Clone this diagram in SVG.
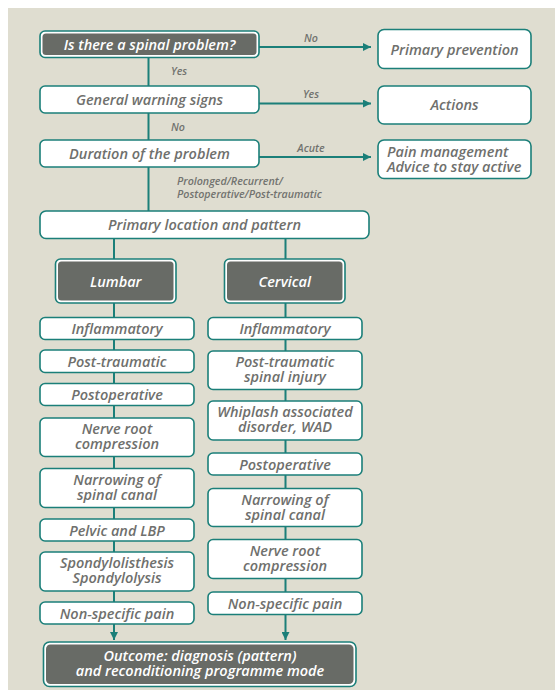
<svg xmlns="http://www.w3.org/2000/svg" width="555" height="699" viewBox="0 0 555 699">
<defs>
<style>
.box{fill:#ffffff;stroke:#1b7f79;stroke-width:1.6}
.dko{fill:#ffffff;stroke:#1b7f79;stroke-width:1.6}
.dki{fill:#686b66}
.t{font-family:"Open Sans","Noto Sans",sans-serif;font-style:italic;font-weight:600;font-size:14.5px;fill:#6f706d;text-anchor:middle}
.ts{font-family:"Open Sans","Noto Sans",sans-serif;font-style:italic;font-weight:600;font-size:14.5px;fill:#6f706d;text-anchor:start}
.tw{font-family:"Open Sans","Noto Sans",sans-serif;font-style:italic;font-weight:600;font-size:14.5px;fill:#ffffff;text-anchor:middle}
.lb{font-family:"Open Sans","Noto Sans",sans-serif;font-style:italic;font-weight:600;font-size:10.7px;fill:#72736f;text-anchor:start}
.lbm{font-family:"Open Sans","Noto Sans",sans-serif;font-style:italic;font-weight:600;font-size:10.7px;fill:#72736f;text-anchor:middle}
.ln{stroke:#1b7f79;stroke-width:2;fill:none}
</style>
<marker id="ah" viewBox="0 0 10 10" refX="10" refY="5" markerWidth="9" markerHeight="8" markerUnits="userSpaceOnUse" orient="auto">
<path d="M0,0 L10,5 L0,10 z" fill="#1b7f79"/>
</marker>
</defs>
<rect x="0" y="0" width="555" height="699" fill="#ffffff"/>
<rect x="8" y="8" width="547" height="682" fill="#dfddd0"/>

<g id="connectors">
<line class="ln" x1="148.5" y1="57" x2="148.5" y2="211"/>
<line class="ln" x1="114" y1="238" x2="114" y2="602"/>
<line class="ln" x1="285.5" y1="238" x2="285.5" y2="592"/>
<line class="ln" x1="114" y1="624" x2="114" y2="640" marker-end="url(#ah)"/>
<line class="ln" x1="285.5" y1="614.5" x2="285.5" y2="640" marker-end="url(#ah)"/>
<line class="ln" x1="259" y1="47" x2="371" y2="47" marker-end="url(#ah)"/>
<line class="ln" x1="259" y1="103.5" x2="371" y2="103.5" marker-end="url(#ah)"/>
<line class="ln" x1="259" y1="157" x2="371" y2="157" marker-end="url(#ah)"/>
<text class="lbm" x="311" y="42">No</text>
<text class="lbm" x="311" y="98">Yes</text>
<text class="lbm" x="311" y="151.5">Acute</text>
<text class="lb" x="171" y="74.5">Yes</text>
<text class="lb" x="171" y="131">No</text>
<text class="lb" x="177" y="185">Prolonged/Recurrent/</text>
<text class="lb" x="177" y="198">Postoperative/Post-traumatic</text>
</g>

<g id="spinal-problem">
<rect class="dko" x="40" y="31" width="219" height="26.5" rx="5"/>
<rect class="dki" x="42.5" y="33.5" width="214" height="21.5" rx="3.5"/>
<text class="tw" x="149.5" y="50">Is there a spinal problem?</text>
</g>
<g id="warning-signs">
<rect class="box" x="40" y="86" width="219" height="27" rx="5"/>
<text class="t" x="149.5" y="104.8">General warning signs</text>
</g>
<g id="duration">
<rect class="box" x="40" y="140" width="219" height="27" rx="5"/>
<text class="t" x="149.5" y="158.8">Duration of the problem</text>
</g>
<g id="primary-prevention">
<rect class="box" x="378" y="29.5" width="153" height="39" rx="6"/>
<text class="t" x="454.5" y="54.5">Primary prevention</text>
</g>
<g id="actions">
<rect class="box" x="378" y="86" width="153" height="38" rx="6"/>
<text class="t" x="454.5" y="110.3">Actions</text>
</g>
<g id="pain-management">
<rect class="box" x="378" y="140" width="153" height="38.5" rx="6"/>
<text class="ts" x="387" y="157">Pain management</text>
<text class="ts" x="387" y="172">Advice to stay active</text>
</g>
<g id="primary-location">
<rect class="box" x="40" y="211" width="329" height="27.5" rx="6"/>
<text class="t" x="204.5" y="230.2">Primary location and pattern</text>
</g>

<g id="lumbar">
<rect class="dko" x="55.5" y="259" width="120.5" height="44" rx="5"/>
<rect class="dki" x="58" y="261.5" width="115.5" height="39" rx="3.5"/>
<text class="tw" x="115.75" y="286.5">Lumbar</text>
</g>
<g id="cervical">
<rect class="dko" x="224.5" y="259" width="120.5" height="44" rx="5"/>
<rect class="dki" x="227" y="261.5" width="115.5" height="39" rx="3.5"/>
<text class="tw" x="284.75" y="286.5">Cervical</text>
</g>

<g id="l-inflammatory">
<rect class="box" x="40" y="317.5" width="154" height="22" rx="5"/>
<text class="t" x="117" y="334.2">Inflammatory</text>
</g>
<g id="l-post-traumatic">
<rect class="box" x="40" y="350" width="154" height="22.5" rx="5"/>
<text class="t" x="117" y="367">Post-traumatic</text>
</g>
<g id="l-postoperative">
<rect class="box" x="40" y="383.5" width="154" height="22" rx="5"/>
<text class="t" x="117" y="400.2">Postoperative</text>
</g>
<g id="l-nerve-root">
<rect class="box" x="40" y="418" width="154" height="38.5" rx="5"/>
<text class="t" x="117" y="434">Nerve root</text>
<text class="t" x="117" y="448.5">compression</text>
</g>
<g id="l-narrowing">
<rect class="box" x="40" y="468.5" width="154" height="39" rx="5"/>
<text class="t" x="117" y="484.5">Narrowing of</text>
<text class="t" x="117" y="499.5">spinal canal</text>
</g>
<g id="l-pelvic">
<rect class="box" x="40" y="519" width="154" height="22" rx="5"/>
<text class="t" x="117" y="535.7">Pelvic and LBP</text>
</g>
<g id="l-spondylo">
<rect class="box" x="40" y="552" width="154" height="39" rx="5"/>
<text class="t" x="117" y="568">Spondylolisthesis</text>
<text class="t" x="117" y="583">Spondylolysis</text>
</g>
<g id="l-non-specific">
<rect class="box" x="40" y="602" width="154" height="22" rx="5"/>
<text class="t" x="117" y="618.7">Non-specific pain</text>
</g>

<g id="c-inflammatory">
<rect class="box" x="208" y="317.5" width="154" height="22" rx="5"/>
<text class="t" x="285" y="334.2">Inflammatory</text>
</g>
<g id="c-post-traumatic">
<rect class="box" x="208" y="351" width="154" height="38.5" rx="5"/>
<text class="t" x="285" y="367">Post-traumatic</text>
<text class="t" x="285" y="382">spinal injury</text>
</g>
<g id="c-whiplash">
<rect class="box" x="208" y="401" width="154" height="39" rx="5"/>
<text class="t" x="285" y="417">Whiplash associated</text>
<text class="t" x="285" y="432">disorder, WAD</text>
</g>
<g id="c-postoperative">
<rect class="box" x="208" y="453" width="154" height="22" rx="5"/>
<text class="t" x="285" y="469.7">Postoperative</text>
</g>
<g id="c-narrowing">
<rect class="box" x="208" y="488.5" width="154" height="38" rx="5"/>
<text class="t" x="285" y="504.5">Narrowing of</text>
<text class="t" x="285" y="519.5">spinal canal</text>
</g>
<g id="c-nerve-root">
<rect class="box" x="208" y="539.5" width="154" height="39" rx="5"/>
<text class="t" x="285" y="555.5">Nerve root</text>
<text class="t" x="285" y="570.5">compression</text>
</g>
<g id="c-non-specific">
<rect class="box" x="208" y="592" width="154" height="22.5" rx="5"/>
<text class="t" x="285" y="608.8">Non-specific pain</text>
</g>

<g id="outcome">
<rect class="dko" x="43.5" y="642" width="312.5" height="44.5" rx="6"/>
<rect class="dki" x="46" y="644.5" width="307.5" height="39.5" rx="4.5"/>
<text class="tw" x="200" y="661">Outcome: diagnosis (pattern)</text>
<text class="tw" x="200" y="675.5">and reconditioning programme mode</text>
</g>
</svg>
